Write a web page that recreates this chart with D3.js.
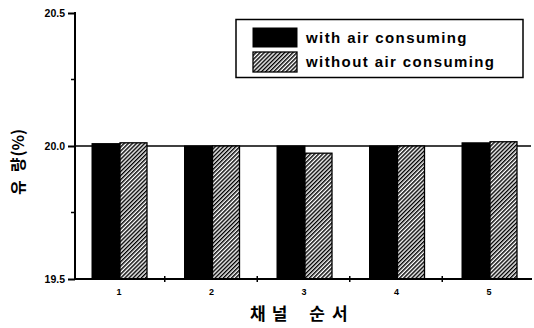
<!DOCTYPE html>
<html><head><meta charset="utf-8">
<script src="https://cdn.jsdelivr.net/npm/d3@7"></script>
<style>body{margin:0;background:#fff}svg{display:block}text{font-family:"Liberation Sans",Arial,sans-serif;font-weight:bold;fill:#000}</style>
</head><body>
<script>
const categories = [1, 2, 3, 4, 5];
const withAir = [20.009, 20.0, 20.0, 20.0, 20.012];
const withoutAir = [20.012, 20.0, 19.973, 20.0, 20.016];
const seriesNames = ["with air consuming", "without air consuming"];
const yTicks = [19.5, 20.0, 20.5];
const yMinor = [19.75, 20.25];
const xTitleChars = ["채", "널", "순", "서"];
const yTitleParts = ["유", "량", "(%)"];

const W = 534, H = 328;
const svg = d3.select("body").append("svg").attr("width", W).attr("height", H);
const defs = svg.append("defs");
const pat = defs.append("pattern").attr("id","hatch").attr("patternUnits","userSpaceOnUse")
  .attr("width",2.9).attr("height",2.9).attr("patternTransform","rotate(45)");
pat.append("rect").attr("width",2.9).attr("height",2.9).attr("fill","#fff");
pat.append("line").attr("x1",0.7).attr("y1",0).attr("x2",0.7).attr("y2",2.9).attr("stroke","#000").attr("stroke-width",1.5);

const x = d3.scaleLinear().domain([1, 5]).range([118.5, 488.5]);
const y = d3.scaleLinear().domain([19.5, 20.5]).range([279, 13]);
const axX0 = 75, axX1 = 532;
const bw = 28;

// horizontal reference line at 20.0
svg.append("line").attr("x1", axX0).attr("x2", 531).attr("y1", y(20.0)).attr("y2", y(20.0))
  .attr("stroke","#000").attr("stroke-width",1.3);

const g = svg.append("g");
categories.forEach((c, i) => {
  const cx = x(c);
  g.append("rect").attr("x", cx - 26.5).attr("y", y(withAir[i])).attr("width", bw)
    .attr("height", y(19.5) - y(withAir[i])).attr("fill","#000").attr("stroke","#000").attr("stroke-width",1);
  g.append("rect").attr("x", cx + 1.5).attr("y", y(withoutAir[i])).attr("width", bw - 1)
    .attr("height", y(19.5) - y(withoutAir[i])).attr("fill","url(#hatch)").attr("stroke","#000").attr("stroke-width",1.3);
});

// y axis
const yAxis = d3.axisLeft(y).tickValues(yTicks).tickFormat(d3.format(".1f")).tickSize(7).tickPadding(3);
const ya = svg.append("g").attr("transform", `translate(${axX0},0)`).call(yAxis);
ya.select(".domain").remove();
ya.selectAll(".tick line").attr("stroke-width",2);
ya.selectAll("text").style("font-size","10.5px").style("font-weight","bold");
svg.append("line").attr("x1",axX0).attr("x2",axX0).attr("y1",y(20.5)-1).attr("y2",y(19.5)+1).attr("stroke","#000").attr("stroke-width",2);
yMinor.forEach(v => svg.append("line").attr("x1",axX0-4).attr("x2",axX0).attr("y1",y(v)).attr("y2",y(v)).attr("stroke","#000").attr("stroke-width",1.5));

// x axis
svg.append("line").attr("x1",axX0).attr("x2",axX1).attr("y1",y(19.5)).attr("y2",y(19.5)).attr("stroke","#000").attr("stroke-width",2);
const xa = d3.axisBottom(x).tickValues(categories).tickFormat(d3.format("d")).tickSize(0).tickPadding(10);
const xg = svg.append("g").attr("transform",`translate(0,${y(19.5)})`).call(xa);
xg.select(".domain").remove();
xg.selectAll("text").style("font-size","9px").style("font-weight","bold");
categories.forEach(c => {
  const mx = x(c + 0.5);
  svg.append("line").attr("x1",mx).attr("x2",mx).attr("y1",y(19.5)-3).attr("y2",y(19.5)+3).attr("stroke","#000").attr("stroke-width",1.5);
});

// titles
const kFont = "'Noto Sans CJK KR',sans-serif";
const xt = svg.append("text").attr("x",250).attr("y",320)
  .style("font-size","17px").style("font-family",kFont).style("font-weight","bold");
const xGaps = [0, 6, 22, 7];
xTitleChars.forEach((ch, i) => xt.append("tspan").attr("dx", xGaps[i]).text(ch));

const yt = svg.append("text").attr("transform","translate(24,195) rotate(-90)")
  .style("font-size","16px").style("font-family",kFont).style("font-weight","bold");
const yGaps = [0, 8, 1];
yTitleParts.forEach((p, i) => yt.append("tspan").attr("dx", yGaps[i]).text(p));

// legend
const lg = svg.append("g");
lg.append("rect").attr("x",236).attr("y",19.5).attr("width",287).attr("height",58).attr("fill","#fff").attr("stroke","#000").attr("stroke-width",1.5);
lg.append("rect").attr("x",253).attr("y",28).attr("width",44).attr("height",19).attr("fill","#000").attr("stroke","#000");
lg.append("rect").attr("x",253).attr("y",52).attr("width",44).attr("height",20).attr("fill","url(#hatch)").attr("stroke","#000").attr("stroke-width",1.3);
lg.append("text").attr("x",306).attr("y",43).style("font-size","15px").style("letter-spacing","1.4px").text(seriesNames[0]);
lg.append("text").attr("x",306).attr("y",67).style("font-size","15px").style("letter-spacing","1.4px").text(seriesNames[1]);
</script>
</body></html>
